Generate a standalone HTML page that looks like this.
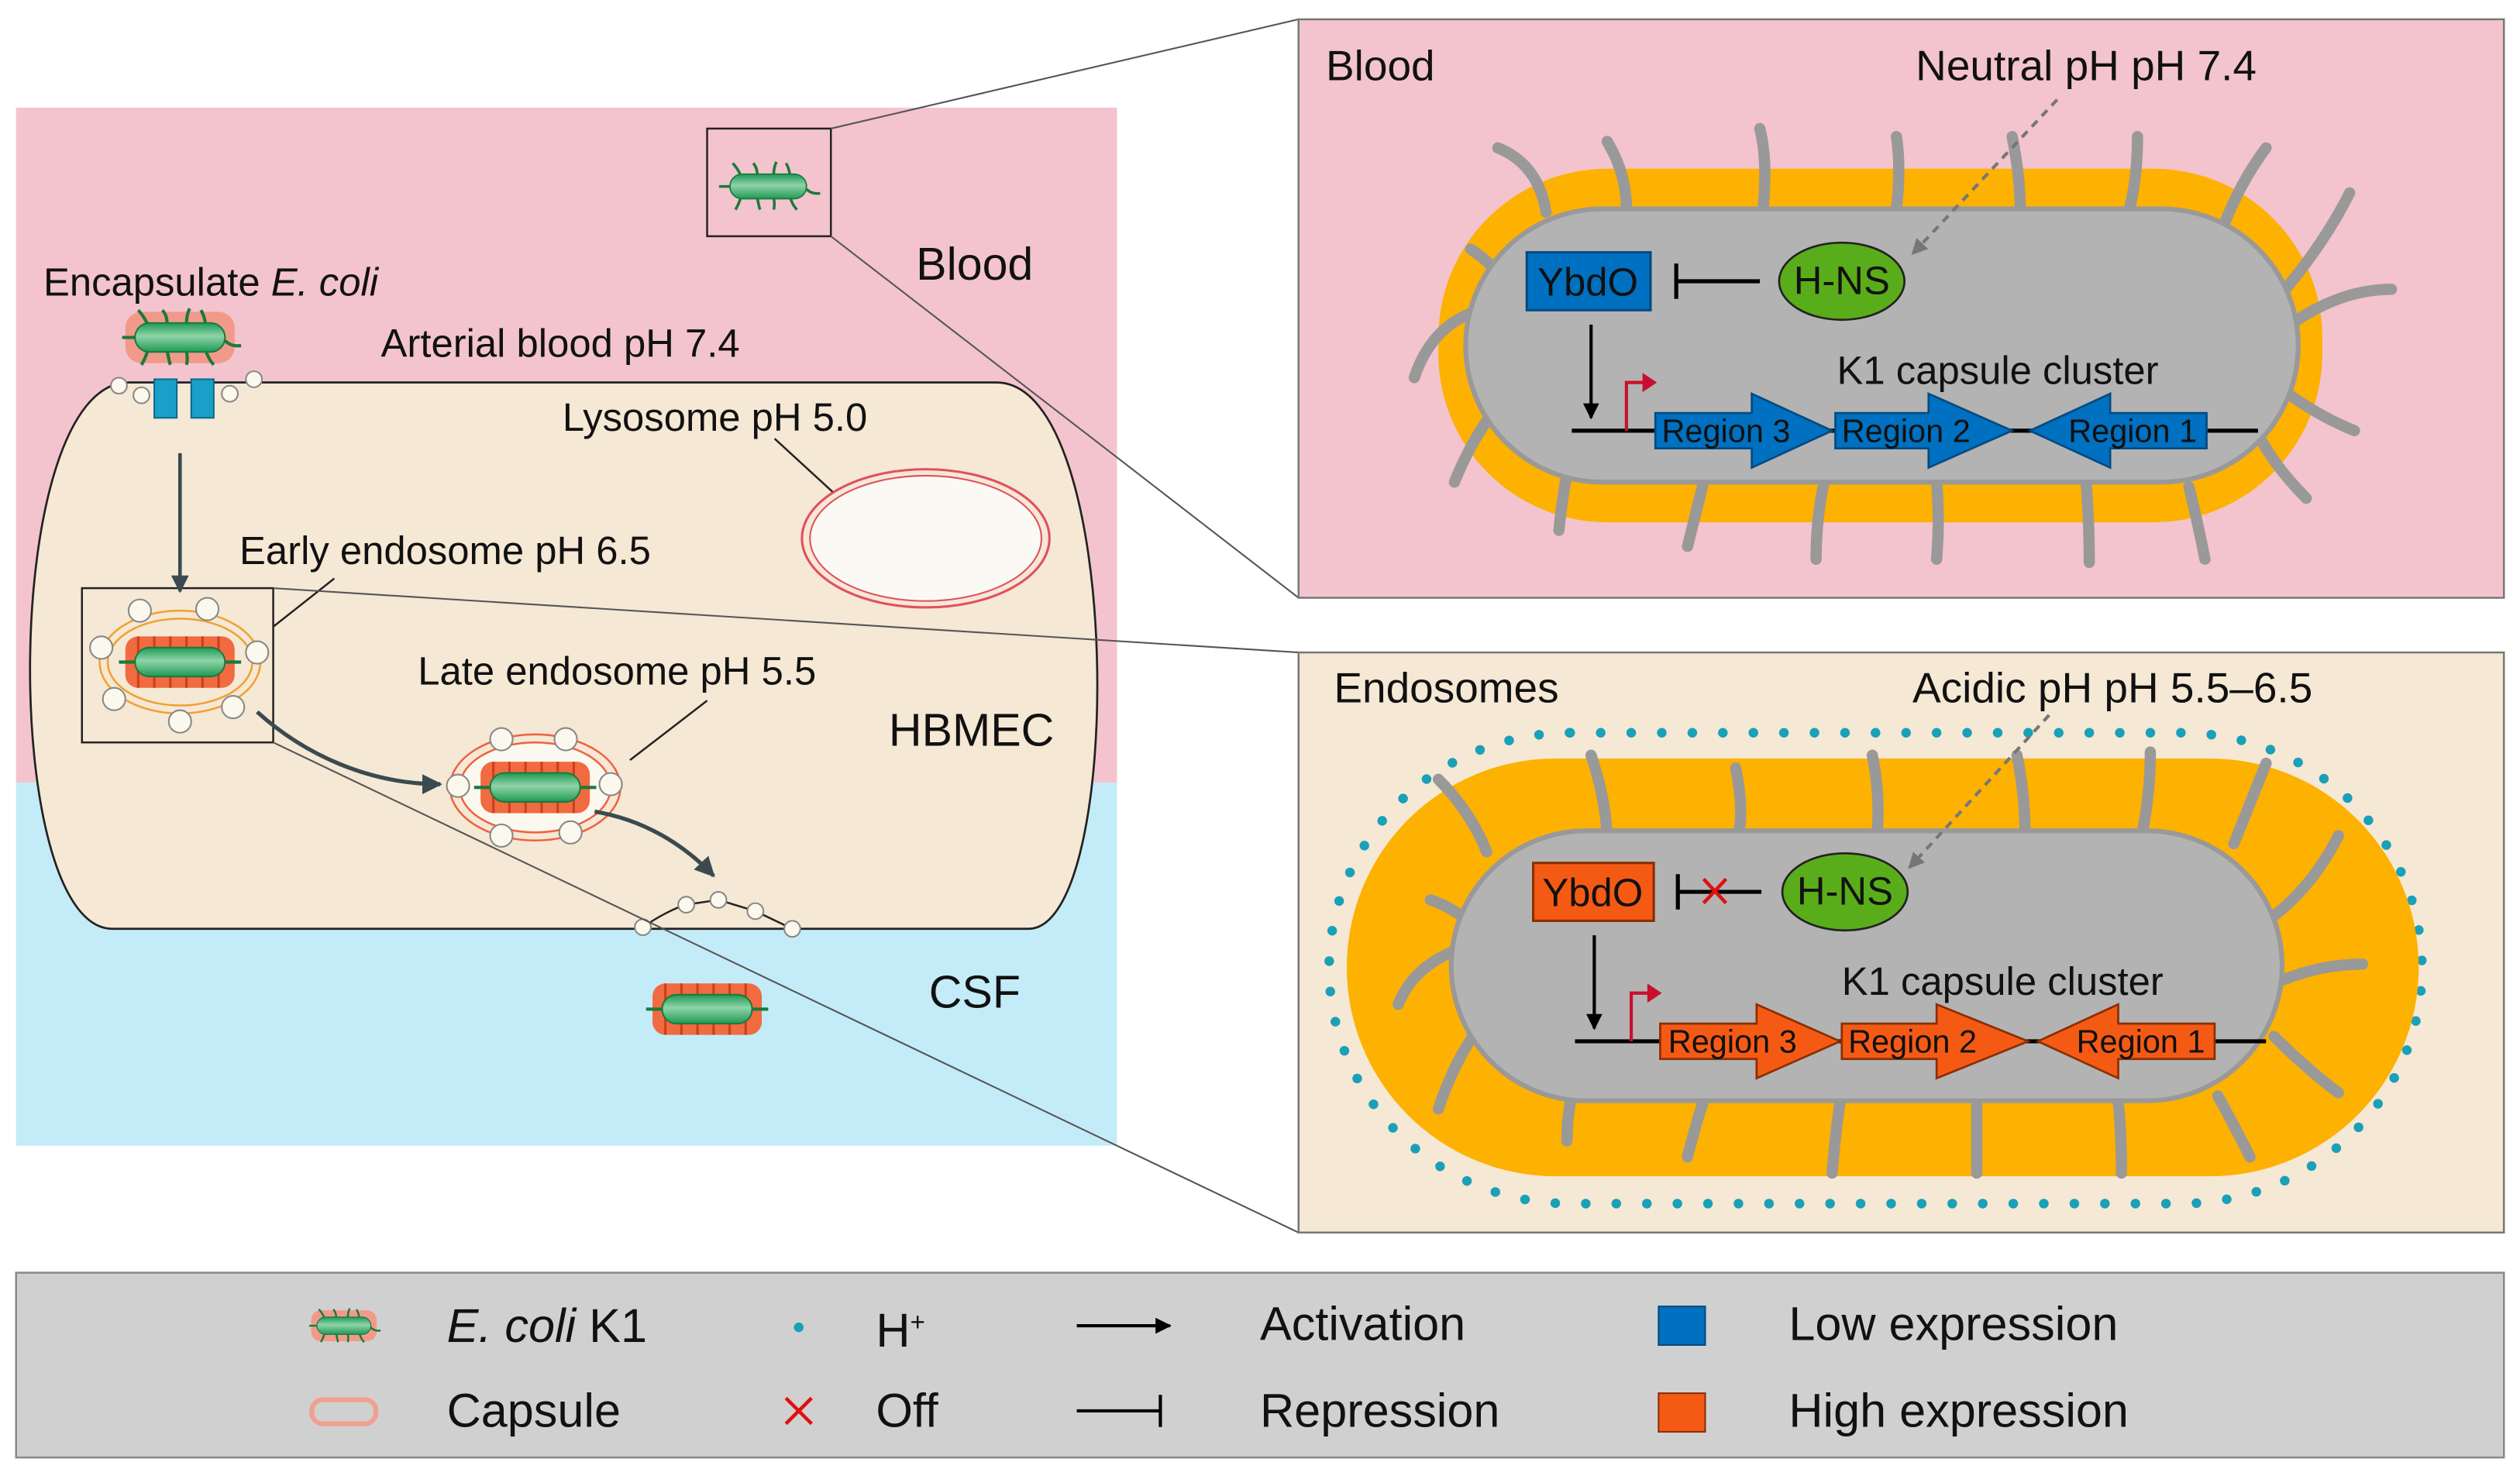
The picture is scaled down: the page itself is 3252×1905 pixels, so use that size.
<!DOCTYPE html>
<html><head><meta charset="utf-8"><style>
html,body{margin:0;padding:0;background:#fff}
svg{display:block}
text{font-family:"Liberation Sans",Arial,sans-serif;fill:#111}
</style></head><body>
<svg width="3252" height="1905" viewBox="0 0 1568 918.5" xmlns="http://www.w3.org/2000/svg">
<defs>
<linearGradient id="bg" x1="0" y1="0" x2="0" y2="1"><stop offset="0" stop-color="#1f9a55"/><stop offset="0.45" stop-color="#8fd3a8"/><stop offset="1" stop-color="#1f9a55"/></linearGradient>
<g id="hairs">
<g stroke="#1a7a3c" stroke-width="2" fill="none">
<path d="M-20-8 q-3-6 -6-9 M-8-8 q0-6 -3-9 M4-8 q0-6 2-10 M16-8 q-1-6 -3-9 M-20 8 q-2 6-4 9 M-8 8 q1 6 2 9 M4 8 q1 6 0 9 M16 8 q2 6 5 9 M-28 0 h-8 M28 2 q4 4 10 3"/>
</g>
<rect x="-28" y="-9" width="56" height="18" rx="9" fill="url(#bg)" stroke="#1a7a3c" stroke-width="1"/>
</g>
<g id="bac">
<rect x="-34" y="-16" width="68" height="32" rx="10" fill="#f29a8a"/>
<use href="#hairs"/>
</g>
<g id="cap">
<rect x="-34" y="-16" width="68" height="32" rx="8" fill="#f26a40"/>
<g stroke="#c84020" stroke-width="1.5"><path d="M-26-16v32M-16-16v32M-6-16v32M4-16v32M14-16v32M24-16v32"/></g>
<rect x="-28" y="-9" width="56" height="18" rx="9" fill="url(#bg)" stroke="#1a7a3c" stroke-width="1"/>
<path d="M28 0h10M-28 0h-10" stroke="#1a7a3c" stroke-width="2"/>
</g>
<marker id="ah" viewBox="0 0 10 10" refX="9" refY="5" markerWidth="5" markerHeight="5" orient="auto"><path d="M0 0L10 5L0 10z" fill="#000"/></marker>
<marker id="ahd" viewBox="0 0 10 10" refX="9" refY="5" markerWidth="5" markerHeight="5" orient="auto"><path d="M0 0L10 5L0 10z" fill="#3a4a50"/></marker>
<marker id="ahg" viewBox="0 0 10 10" refX="9" refY="5" markerWidth="5" markerHeight="5" orient="auto"><path d="M0 0L10 5L0 10z" fill="#777"/></marker>
</defs>

<rect x="10" y="67" width="685" height="646" fill="#c3ecf8"/>
<rect x="10" y="67" width="685" height="420" fill="#f3c4cd"/>
<path d="M150 238 H620 C700 238 700 578 640 578 H70 C0 578 0 238 80 238 Z" fill="#f5e8d4" stroke="#222" stroke-width="1.3"/>
<rect x="96" y="236" width="14" height="24" fill="#1aa0c8" stroke="#0a6a8a"/>
<rect x="119" y="236" width="14" height="24" fill="#1aa0c8" stroke="#0a6a8a"/>
<g fill="#fbf8ee" stroke="#888" stroke-width="1">
<circle cx="74" cy="240" r="5"/><circle cx="88" cy="246" r="5"/><circle cx="143" cy="245" r="5"/><circle cx="158" cy="236" r="5"/>
</g>
<use href="#bac" x="112" y="210"/>
<text x="27" y="184" font-size="24.5">Encapsulate <tspan font-style="italic">E. coli</tspan></text>
<text x="237" y="222" font-size="24.5">Arterial blood pH 7.4</text>
<text x="570" y="174" font-size="28.5">Blood</text>
<text x="553" y="464" font-size="28.5">HBMEC</text>
<text x="578" y="627" font-size="28.5">CSF</text>
<text x="350" y="268" font-size="24.5">Lysosome pH 5.0</text>
<text x="149" y="351" font-size="24.5">Early endosome pH 6.5</text>
<text x="260" y="426" font-size="24.5">Late endosome pH 5.5</text>
<ellipse cx="576" cy="335" rx="77" ry="43" fill="none" stroke="#e05060" stroke-width="1.5"/>
<ellipse cx="576" cy="335" rx="72" ry="39" fill="#fbf9f4" stroke="#e05060" stroke-width="1"/>
<line x1="482" y1="273" x2="518" y2="306" stroke="#222" stroke-width="1.2"/>
<line x1="170" y1="390" x2="208" y2="360" stroke="#222" stroke-width="1.2"/>
<line x1="392" y1="473" x2="440" y2="436" stroke="#222" stroke-width="1.2"/>
<rect x="51" y="366" width="119" height="96" fill="none" stroke="#222" stroke-width="1.2"/>
<ellipse cx="112" cy="412" rx="50" ry="32" fill="none" stroke="#f0a030" stroke-width="1.2"/>
<ellipse cx="112" cy="412" rx="45" ry="27" fill="none" stroke="#f0a030" stroke-width="1.2"/>
<use href="#cap" x="112" y="412"/>
<g fill="#fbf8ee" stroke="#888"><circle cx="87" cy="380" r="7"/><circle cx="129" cy="379" r="7"/><circle cx="63" cy="403" r="7"/><circle cx="160" cy="406" r="7"/><circle cx="71" cy="435" r="7"/><circle cx="112" cy="449" r="7"/><circle cx="145" cy="440" r="7"/></g>
<ellipse cx="333" cy="490" rx="53" ry="33" fill="none" stroke="#f06040" stroke-width="1.2"/>
<ellipse cx="333" cy="490" rx="47" ry="28" fill="#fbf8f0" stroke="#f06040" stroke-width="1.2"/>
<use href="#cap" x="333" y="490"/>
<g fill="#fbf8ee" stroke="#888"><circle cx="312" cy="460" r="7"/><circle cx="352" cy="460" r="7"/><circle cx="285" cy="489" r="7"/><circle cx="380" cy="488" r="7"/><circle cx="312" cy="520" r="7"/><circle cx="355" cy="518" r="7"/></g>
<path d="M400 577 C410 570 420 565 427 563 L447 560 L470 567 L493 578" fill="none" stroke="#222" stroke-width="1.2"/>
<g fill="#fbf8ee" stroke="#888"><circle cx="400" cy="577" r="5"/><circle cx="427" cy="563" r="5"/><circle cx="447" cy="560" r="5"/><circle cx="470" cy="567" r="5"/><circle cx="493" cy="578" r="5"/></g>
<use href="#cap" x="440" y="628"/>
<line x1="112" y1="282" x2="112" y2="368" stroke="#3a4a50" stroke-width="2.2" marker-end="url(#ahd)"/>
<path d="M160 443 C190 470 230 488 274 488" fill="none" stroke="#3a4a50" stroke-width="2.5" marker-end="url(#ahd)"/>
<path d="M370 505 C400 510 425 525 444 545" fill="none" stroke="#3a4a50" stroke-width="2.5" marker-end="url(#ahd)"/>
<rect x="440" y="80" width="77" height="67" fill="none" stroke="#222" stroke-width="1.2"/>
<g transform="translate(478 116) scale(0.85)"><use href="#hairs"/></g>
<g stroke="#555" stroke-width="1"><line x1="517" y1="80" x2="808" y2="12"/><line x1="517" y1="147" x2="808" y2="372"/><line x1="170" y1="366" x2="808" y2="406"/><line x1="170" y1="462" x2="808" y2="767"/></g>

<rect x="808" y="12" width="750" height="360" fill="#f3c4cd" stroke="#777" stroke-width="1.2"/>
<text x="825" y="50" font-size="26.5">Blood</text>
<text x="1192" y="50" font-size="26.5">Neutral pH pH 7.4</text>
<rect x="895" y="105" width="550" height="220" rx="105" fill="#fdb100"/>
<g stroke="#999" stroke-width="7" fill="none" stroke-linecap="round">
<path d="M932 92 q25 10 30 40 M1000 88 q12 20 12 42 M1095 80 q5 20 2 50 M1180 85 q3 20 0 45 M1252 85 q5 25 5 45 M1330 85 q0 25 -5 45 M1410 92 q-15 20 -25 45 M1462 120 q-15 30 -40 60 M1488 180 q-30 0 -60 20 M1465 268 q-20 -8 -40 -22 M1435 310 q-20 -20 -30 -40 M1372 348 q-5 -25 -10 -45 M1300 350 q0 -25 -2 -50 M1205 348 q2 -25 0 -48 M1130 348 q0 -25 5 -48 M1050 340 q5 -20 10 -40 M970 330 q2 -20 5 -35 M905 300 q10 -25 25 -45 M880 235 q10 -30 35 -40 M915 155 q15 10 22 22"/>
</g>
<rect x="912" y="130" width="518" height="170" rx="85" fill="#b3b3b3" stroke="#999" stroke-width="3"/>
<rect x="950" y="157" width="77" height="36" fill="#0070c0" stroke="#064a80" stroke-width="1.5"/>
<text x="988" y="184" font-size="24.5" text-anchor="middle">YbdO</text>
<path d="M1043 164v22M1043 175h52" stroke="#000" stroke-width="2.5" fill="none"/>
<ellipse cx="1146" cy="175" rx="39" ry="24" fill="#5aad1a" stroke="#222" stroke-width="1.3"/>
<text x="1146" y="183" font-size="24.5" text-anchor="middle">H-NS</text>
<line x1="1280" y1="62" x2="1190" y2="158" stroke="#777" stroke-width="2" stroke-dasharray="5 4" marker-end="url(#ahg)"/>
<line x1="990" y1="202" x2="990" y2="260" stroke="#000" stroke-width="2" marker-end="url(#ah)"/>
<text x="1143" y="239" font-size="24.5">K1 capsule cluster</text>
<line x1="978" y1="268" x2="1405" y2="268" stroke="#000" stroke-width="2.5"/>
<path d="M1012 268v-30h12" stroke="#c8102e" stroke-width="2" fill="none"/><path d="M1022 232l9 6-9 6z" fill="#c8102e"/>
<g fill="#0070c0" stroke="#064a80" stroke-width="1.3">
<path d="M1030 257h60v-12l50 23-50 23v-12h-60z"/>
<path d="M1142 257h58v-12l52 23-52 23v-12h-58z"/>
<path d="M1373 257h-60v-12l-50 23 50 23v-12h60z"/>
</g>
<g font-size="20"><text x="1034" y="275">Region 3</text><text x="1146" y="275">Region 2</text><text x="1287" y="275">Region 1</text></g>

<rect x="808" y="406" width="750" height="361" fill="#f5e8d4" stroke="#777" stroke-width="1.2"/>
<text x="830" y="437" font-size="26.5">Endosomes</text>
<text x="1190" y="437" font-size="26.5">Acidic pH pH 5.5–6.5</text>
<rect x="827" y="456" width="680" height="293" rx="150" fill="none" stroke="#1aa0b8" stroke-width="6" stroke-linecap="round" stroke-dasharray="0 19"/>
<rect x="838" y="472" width="667" height="260" rx="130" fill="#fdb100"/>
<g stroke="#999" stroke-width="7" fill="none" stroke-linecap="round">
<path d="M895 485 q20 20 30 45 M990 470 q10 30 10 55 M1080 478 q5 25 2 40 M1165 470 q5 25 3 48 M1255 470 q5 25 5 48 M1338 468 q0 25 -5 50 M1410 475 q-10 25 -20 50 M1455 520 q-15 30 -40 50 M1470 600 q-25 0 -50 10 M1455 680 q-20 -15 -40 -35 M1400 720 q-10 -20 -20 -38 M1320 730 q0 -25 -2 -45 M1230 730 q0 -25 0 -45 M1140 730 q2 -25 5 -45 M1050 720 q5 -20 10 -35 M975 710 q0 -20 5 -35 M895 690 q10 -30 25 -50 M870 625 q10 -25 40 -35 M890 560 q15 5 25 15"/>
</g>
<rect x="903" y="517" width="517" height="168" rx="84" fill="#b3b3b3" stroke="#999" stroke-width="3"/>
<rect x="954" y="537" width="75" height="36" fill="#f55a14" stroke="#8a2e06" stroke-width="1.5"/>
<text x="991" y="564" font-size="24.5" text-anchor="middle">YbdO</text>
<path d="M1044 544v22M1044 555h52" stroke="#000" stroke-width="2.5" fill="none"/>
<path d="M1060 547l14 15M1074 547l-14 15" stroke="#e01010" stroke-width="2.2"/>
<ellipse cx="1148" cy="555" rx="39" ry="24" fill="#5aad1a" stroke="#222" stroke-width="1.3"/>
<text x="1148" y="563" font-size="24.5" text-anchor="middle">H-NS</text>
<line x1="1275" y1="445" x2="1188" y2="540" stroke="#777" stroke-width="2" stroke-dasharray="5 4" marker-end="url(#ahg)"/>
<line x1="992" y1="582" x2="992" y2="640" stroke="#000" stroke-width="2" marker-end="url(#ah)"/>
<text x="1146" y="619" font-size="24.5">K1 capsule cluster</text>
<line x1="980" y1="648" x2="1410" y2="648" stroke="#000" stroke-width="2.5"/>
<path d="M1015 648v-30h12" stroke="#c8102e" stroke-width="2" fill="none"/><path d="M1025 612l9 6-9 6z" fill="#c8102e"/>
<g fill="#f55a14" stroke="#8a2e06" stroke-width="1.3">
<path d="M1033 637h60v-12l52 23-52 23v-12h-60z"/>
<path d="M1146 637h59v-12l57 23-57 23v-12h-59z"/>
<path d="M1378 637h-60v-12l-50 23 50 23v-12h60z"/>
</g>
<g font-size="20"><text x="1038" y="655">Region 3</text><text x="1150" y="655">Region 2</text><text x="1292" y="655">Region 1</text></g>

<rect x="10" y="792" width="1548" height="115" fill="#d0d0d0" stroke="#888" stroke-width="1.2"/>
<g transform="translate(214 825) scale(0.6)"><use href="#bac"/></g>
<text x="278" y="835" font-size="29.5"><tspan font-style="italic">E. coli</tspan> K1</text>
<rect x="194" y="871" width="40" height="15" rx="7" fill="none" stroke="#f0a090" stroke-width="3"/>
<text x="278" y="888" font-size="29.5">Capsule</text>
<circle cx="497" cy="826" r="3" fill="#1aa0b8"/>
<text x="545" y="838" font-size="29.5">H<tspan font-size="16" dy="-10">+</tspan></text>
<path d="M489 870l16 16M505 870l-16 16" stroke="#e01010" stroke-width="2.2"/>
<text x="545" y="888" font-size="29.5">Off</text>
<line x1="670" y1="825" x2="728" y2="825" stroke="#000" stroke-width="2" marker-end="url(#ah)"/>
<text x="784" y="834" font-size="29.5">Activation</text>
<path d="M670 878h52M722 868v20" stroke="#000" stroke-width="2" fill="none"/>
<text x="784" y="888" font-size="29.5">Repression</text>
<rect x="1032" y="813" width="29" height="24" fill="#0070c0" stroke="#064a80"/>
<text x="1113" y="834" font-size="29.5">Low expression</text>
<rect x="1032" y="867" width="29" height="24" fill="#f55a14" stroke="#8a2e06"/>
<text x="1113" y="888" font-size="29.5">High expression</text>
</svg>
</body></html>
